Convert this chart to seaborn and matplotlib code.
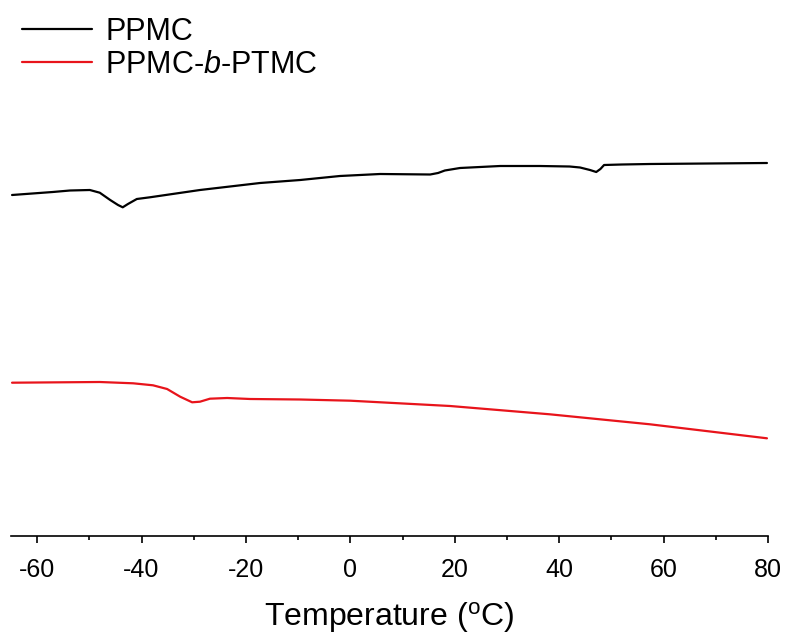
import matplotlib
matplotlib.use("Agg")
import matplotlib.pyplot as plt
from matplotlib.ticker import MultipleLocator
import seaborn as sns
import pandas as pd

# PPMC (black): temperature (°C) and heat flow (arb. units)
ppmc_t = [-64.8, -57.0, -53.7, -49.9, -48.0, -46.0, -44.5, -43.6, -42.6, -40.9, -38.4,
          -28.8, -17.3, -9.6, -2.0, 5.7, 15.3, 16.8, 18.1, 21.0, 28.7, 36.3,
          42.0, 44.0, 45.9, 47.1, 47.9, 48.6, 52.0, 57.4, 79.8]
ppmc_y = [341, 344, 345.5, 346, 343.3, 336, 331, 328.7, 332, 337, 338.7,
          346, 353, 356, 360, 362, 361.5, 363, 365.5, 368, 370, 370,
          369.5, 368.5, 366, 364, 367, 371, 371.5, 372, 373]

# PPMC-b-PTMC (red)
block_t = [-64.8, -48.0, -41.6, -37.8, -35.1, -32.6, -30.3, -28.8, -26.9, -23.6,
           -19.2, -9.6, 0.0, 19.1, 38.2, 57.4, 79.8]
block_y = [153.3, 154, 152.7, 150.7, 147, 139.3, 133.7, 134.3, 137.3, 138,
           137, 136.5, 135.3, 130, 121.7, 111.7, 97.7]

labels = ["PPMC", "PPMC-$\\it{b}$-PTMC"]
colors = ["black", "#e8141b"]
x_ticks = [-60, -40, -20, 0, 20, 40, 60, 80]

df = pd.concat([
    pd.DataFrame({"T": ppmc_t, "y": ppmc_y, "s": labels[0]}),
    pd.DataFrame({"T": block_t, "y": block_y, "s": labels[1]}),
])

sns.set_theme(style="white")
plt.rcParams["font.family"] = ["Liberation Sans", "DejaVu Sans"]
plt.rcParams["mathtext.fontset"] = "custom"
plt.rcParams["mathtext.rm"] = "Liberation Sans"
plt.rcParams["mathtext.it"] = "Liberation Sans:italic"
plt.rcParams["text.color"] = "black"
plt.rcParams["axes.labelcolor"] = "black"

fig = plt.figure(figsize=(7.86, 6.37), dpi=100)
ax = fig.add_axes([11 / 786, 101 / 637, 757 / 786, 536 / 637])

sns.lineplot(data=df, x="T", y="y", hue="s", palette=dict(zip(labels, colors)),
             linewidth=1.6, ax=ax, sort=False, legend=True)

ax.set_xlim(-65, 80)
ax.set_ylim(0, 536)
ax.set_xticks(x_ticks)
ax.set_xticklabels([str(v) for v in x_ticks])
ax.xaxis.set_minor_locator(MultipleLocator(10))
ax.set_yticks([])
ax.set_ylabel("")
ax.set_xlabel("Temperature ($^{\\mathrm{o}}$C)", fontsize=23, labelpad=13)
for side in ["top", "left", "right"]:
    ax.spines[side].set_visible(False)
ax.spines["bottom"].set_linewidth(1.2)
ax.spines["bottom"].set_color("black")
ax.tick_params(axis="x", which="major", direction="out", length=5, width=1.2,
               labelsize=18, pad=11, bottom=True, colors="black")
ax.tick_params(axis="x", which="minor", direction="out", length=3, width=1.2,
               bottom=True, colors="black")

handles, _ = ax.get_legend_handles_labels()
ax.legend(handles=handles, labels=labels, loc="upper left",
          bbox_to_anchor=(16 / 786, 1 - 11 / 637), bbox_transform=fig.transFigure,
          frameon=False, fontsize=22, handlelength=2.3, handletextpad=0.42,
          labelspacing=0.1, borderaxespad=0, borderpad=0.2)

fig.savefig("out.png", dpi=100)
